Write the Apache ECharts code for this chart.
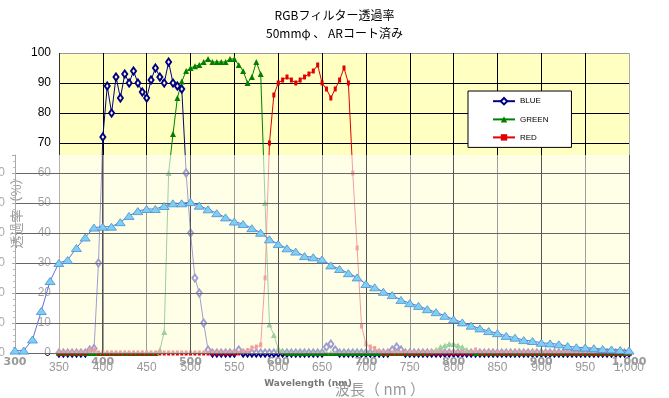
<!DOCTYPE html>
<html>
<head>
<meta charset="utf-8">
<title>RGBフィルター透過率</title>
<script src="https://cdn.jsdelivr.net/npm/echarts@6/dist/echarts.min.js"></script>
<style>
  html, body { margin: 0; padding: 0; background: #fff; }
  #main { width: 669px; height: 398px; }
</style>
</head>
<body>
<div id="main"></div>
<script>
// RGB filter data (nm, %)
const wavelengths = [
  350, 355, 360, 365, 370, 375, 380, 385, 390, 395,
  400, 405, 410, 415, 420, 425, 430, 435, 440, 445,
  450, 455, 460, 465, 470, 475, 480, 485, 490, 495,
  500, 505, 510, 515, 520, 525, 530, 535, 540, 545,
  550, 555, 560, 565, 570, 575, 580, 585, 590, 595,
  600, 605, 610, 615, 620, 625, 630, 635, 640, 645,
  650, 655, 660, 665, 670, 675, 680, 685, 690, 695,
  700, 705, 710, 715, 720, 725, 730, 735, 740, 745,
  750, 755, 760, 765, 770, 775, 780, 785, 790, 795,
  800, 805, 810, 815, 820, 825, 830, 835, 840, 845,
  850, 855, 860, 865, 870, 875, 880, 885, 890, 895,
  900, 905, 910, 915, 920, 925, 930, 935, 940, 945,
  950, 955, 960, 965, 970, 975, 980, 985, 990, 995,
  1000
]
const blueT = [
  0, 0, 0, 0, 0, 0, 0, 1, 1.5, 30,
  72, 89, 80, 92, 85, 93, 90, 94, 90, 87,
  85, 91, 95, 92, 90, 97, 90, 89, 88, 60,
  40, 25, 20, 10, 1, 0, 0, 0, 0, 0,
  0, 1, 0, 0, 0, 0, 0, 0, 0, 0,
  0, 0, 0, 0, 0, 0, 0, 0, 0, 0,
  0, 2, 3, 1, 0, 0, 0, 0, 0, 0,
  0, 0, 0, 0, 0, 0, 1, 2, 1, 0,
  0, 0, 0, 0, 0, 0, 0, 0, 0, 0,
  0, 0, 0, 0, 0, 0, 0, 0, 0, 0,
  0, 0, 0, 0, 0, 0, 0, 0, 0, 0,
  0, 0, 0, 0, 0, 0, 0, 0, 0, 0,
  0, 0, 0, 0, 0, 0, 0, 0, 0, 0,
  0
]
const greenT = [
  0, 0, 0, 0, 0, 0, 0, 0, 0, 0,
  0, 0, 0, 0, 0, 0, 0, 0, 0, 0,
  0, 0, 0, 1, 7, 60, 73, 85, 90.5, 94,
  95, 95.6, 96, 97, 98, 97, 97, 97, 97, 98,
  98, 96, 94, 90, 92, 97, 93, 50, 9.5, 6,
  1.5, 0.5, 0, 0, 0, 0, 0, 0, 0, 0,
  0, 0, 0, 0, 0, 0, 0, 0, 0, 0,
  0, 0, 0, 0, 0, 0, 0, 0, 0, 0,
  0, 0, 0, 0, 0, 0.5, 1, 2, 2.5, 3,
  3, 2.5, 2, 1, 0.5, 0, 0, 0, 0, 0,
  0, 0, 0, 0, 0, 0, 0, 0, 0, 0,
  0, 0, 0, 0, 0, 0, 0, 0, 0, 0,
  0, 0, 0, 0, 0, 0, 0, 0, 0, 0,
  0
]
const redT = [
  0, 0, 0, 0, 0, 0, 0, 1, 1, 0,
  0, 0, 0, 0, 0, 0, 0, 0, 0, 0,
  0, 0, 0, 0, 0, 0, 0, 0, 0, 0,
  0, 0, 0, 0, 0, 0, 0, 0, 0, 0,
  0, 0, 0.5, 0.8, 1.7, 2, 2.7, 25, 70, 86,
  90, 91, 92, 91, 90, 91, 92, 93, 94, 96,
  90, 88, 85, 88, 91, 95, 90, 60, 35, 9,
  3, 2, 1.5, 0.5, 0, 0, 0, 0, 0, 0,
  0, 0, 0, 0, 0, 0, 0, 0, 0, 0,
  0, 0, 0, 0, 0, 1, 0, 0, 0, 0,
  0, 0, 0, 0, 0, 0, 0, 0, 0, 0,
  0, 0, 0, 0, 0, 0, 0, 0, 0, 0,
  0, 0, 0, 0, 0, 0, 0, 0, 0, 0,
  0
]
// 下に重なっているグラフ (300-1000nm)
const uvWavelengths = [
  300, 310, 320, 330, 340, 350, 360, 370, 380, 390,
  400, 410, 420, 430, 440, 450, 460, 470, 480, 490,
  500, 510, 520, 530, 540, 550, 560, 570, 580, 590,
  600, 610, 620, 630, 640, 650, 660, 670, 680, 690,
  700, 710, 720, 730, 740, 750, 760, 770, 780, 790,
  800, 810, 820, 830, 840, 850, 860, 870, 880, 890,
  900, 910, 920, 930, 940, 950, 960, 970, 980, 990,
  1000
]
const uvT = [
  0.8, 0.8, 4.5, 14, 24, 30, 31, 35, 38.5, 41.8,
  42.1, 42.1, 43.6, 45.7, 47.3, 48, 48, 49, 49.9, 49.9,
  50.3, 49.1, 47.9, 46.6, 45.2, 43.8, 43, 41.6, 40.1, 37.9,
  36.3, 34.9, 33.8, 32.3, 31.9, 31.2, 29.2, 28, 26.6, 25.2,
  23, 21.9, 20.4, 19.3, 17.7, 16.6, 15.7, 14.6, 13.6, 12.4,
  11.2, 10.2, 9.1, 8.2, 7.3, 6.6, 5.7, 5.1, 4.3, 4,
  3.4, 3.2, 2.9, 2.3, 1.9, 1.8, 1.6, 1.3, 1.2, 1,
  0.8
]

const pairs = (xs, ys) => xs.map((x, i) => [x, ys[i]])

const chart = echarts.init(document.getElementById('main'))

const option = {
  animation: false,
  textStyle: { fontFamily: 'Liberation Sans' },
  title: {
    text: 'RGBフィルター透過率\n50mmφ 、 ARコート済み',
    left: 'center',
    top: 6,
    padding: 0,
    textStyle: {
      fontSize: 12,
      fontWeight: 'normal',
      fontFamily: 'Noto Sans CJK JP',
      lineHeight: 18,
      color: '#000'
    }
  },
  legend: {
    data: ['BLUE', 'GREEN', 'RED'],
    orient: 'vertical',
    left: 468,
    top: 91,
    backgroundColor: '#fff',
    borderColor: '#000',
    borderWidth: 1,
    borderRadius: 0,
    padding: [6, 23, 6, 24],
    itemWidth: 22,
    itemHeight: 8,
    itemGap: 10,
    z: 6,
    textStyle: { fontSize: 8, color: '#000' }
  },
  grid: [
    {
      left: 59, right: 40, top: 53, bottom: 45, outerBoundsMode: 'none', containLabel: false,
      show: true, backgroundColor: '#ffffc2', borderWidth: 0, z: 0
    },
    {
      left: 15, right: 40, top: 155, bottom: 45, outerBoundsMode: 'none', containLabel: false,
      show: true, backgroundColor: 'rgba(255,255,255,0.62)', borderWidth: 0, z: 3
    }
  ],
  xAxis: [
    {
      type: 'value', gridIndex: 0, min: 350, max: 1000, interval: 50, z: 1,
      name: 'Wavelength (nm)',
      nameLocation: 'middle',
      nameGap: 22,
      nameTextStyle: { fontFamily: 'DejaVu Sans', fontWeight: 'bold', fontSize: 9, color: '#777', padding: [0, 72, 0, 0] },
      axisLine: { show: false },
      axisTick: { show: false },
      axisLabel: { color: '#999', fontSize: 12, margin: 9 },
      splitLine: {
        lineStyle: {
          color: ['#333', '#000', '#000', '#000', '#000', '#000', '#000', '#000', '#000', '#000', '#000', '#000', '#000', '#aaa'],
          width: 1
        }
      }
    },
    {
      type: 'value', gridIndex: 1, min: 300, max: 1000, interval: 100, z: 4,
      name: '波長（ nm ）',
      nameLocation: 'middle',
      nameGap: 29,
      nameTextStyle: { fontFamily: 'Noto Sans CJK JP', fontSize: 15, color: '#999', padding: [0, 0, 0, 116] },
      axisLine: { show: false },
      axisTick: { show: false },
      axisLabel: { color: '#999', fontSize: 11, fontFamily: 'DejaVu Sans', fontWeight: 'bold', margin: 4 },
      splitLine: { lineStyle: { color: '#555', width: 1 } }
    }
  ],
  yAxis: [
    {
      type: 'value', gridIndex: 0, min: 0, max: 100, interval: 10, z: 1,
      axisLine: { show: false },
      axisTick: { show: false },
      axisLabel: { color: '#000', fontSize: 12, margin: 8 },
      splitLine: {
        lineStyle: {
          color: ['#000', '#000', '#000', '#000', '#000', '#000', '#000', '#000', '#000', '#000', '#999'],
          width: 1
        }
      }
    },
    {
      type: 'value', gridIndex: 1, min: 0, max: 66, interval: 10, z: 4,
      name: '透過率（%）',
      nameLocation: 'middle',
      nameRotate: 90,
      nameGap: -8,
      nameMoveOverlap: false,
      nameTextStyle: { fontFamily: 'Noto Sans CJK JP', fontSize: 13, color: '#999', padding: [0, 0, 0, 88] },
      axisLine: { show: true, lineStyle: { color: '#aaa' } },
      axisTick: { show: true, length: 3, lineStyle: { color: '#aaa' } },
      minorTick: { show: true, splitNumber: 5, length: 2, lineStyle: { color: '#bbb' } },
      axisLabel: { color: '#aaa', fontSize: 12, margin: 10, showMaxLabel: false },
      splitLine: { showMaxLine: false, lineStyle: { color: '#666', width: 1 } }
    }
  ],
  series: [
    {
      name: 'BLUE', type: 'line', xAxisIndex: 0, yAxisIndex: 0, z: 2,
      data: pairs(wavelengths, blueT),
      symbol: 'emptyDiamond', symbolSize: [5, 7],
      itemStyle: { color: '#000080', borderWidth: 1 },
      lineStyle: { color: '#000080', width: 1 }
    },
    {
      name: 'GREEN', type: 'line', xAxisIndex: 0, yAxisIndex: 0, z: 2,
      data: pairs(wavelengths, greenT),
      symbol: 'triangle', symbolSize: 6,
      itemStyle: { color: '#008000' },
      lineStyle: { color: '#008000', width: 1 }
    },
    {
      name: 'RED', type: 'line', xAxisIndex: 0, yAxisIndex: 0, z: 2,
      data: pairs(wavelengths, redT),
      symbol: 'rect', symbolSize: [3, 5],
      itemStyle: { color: '#e00000' },
      lineStyle: { color: '#e00000', width: 1 }
    },
    {
      name: '透過率', type: 'line', xAxisIndex: 1, yAxisIndex: 1, z: 5,
      data: pairs(uvWavelengths, uvT),
      symbol: 'triangle', symbolSize: [10, 7],
      itemStyle: { color: '#7dd0f2', borderColor: '#4a8fd6', borderWidth: 0.8 },
      lineStyle: { color: '#6070e0', width: 1 }
    }
  ]
}

chart.setOption(option)
</script>
</body>
</html>
